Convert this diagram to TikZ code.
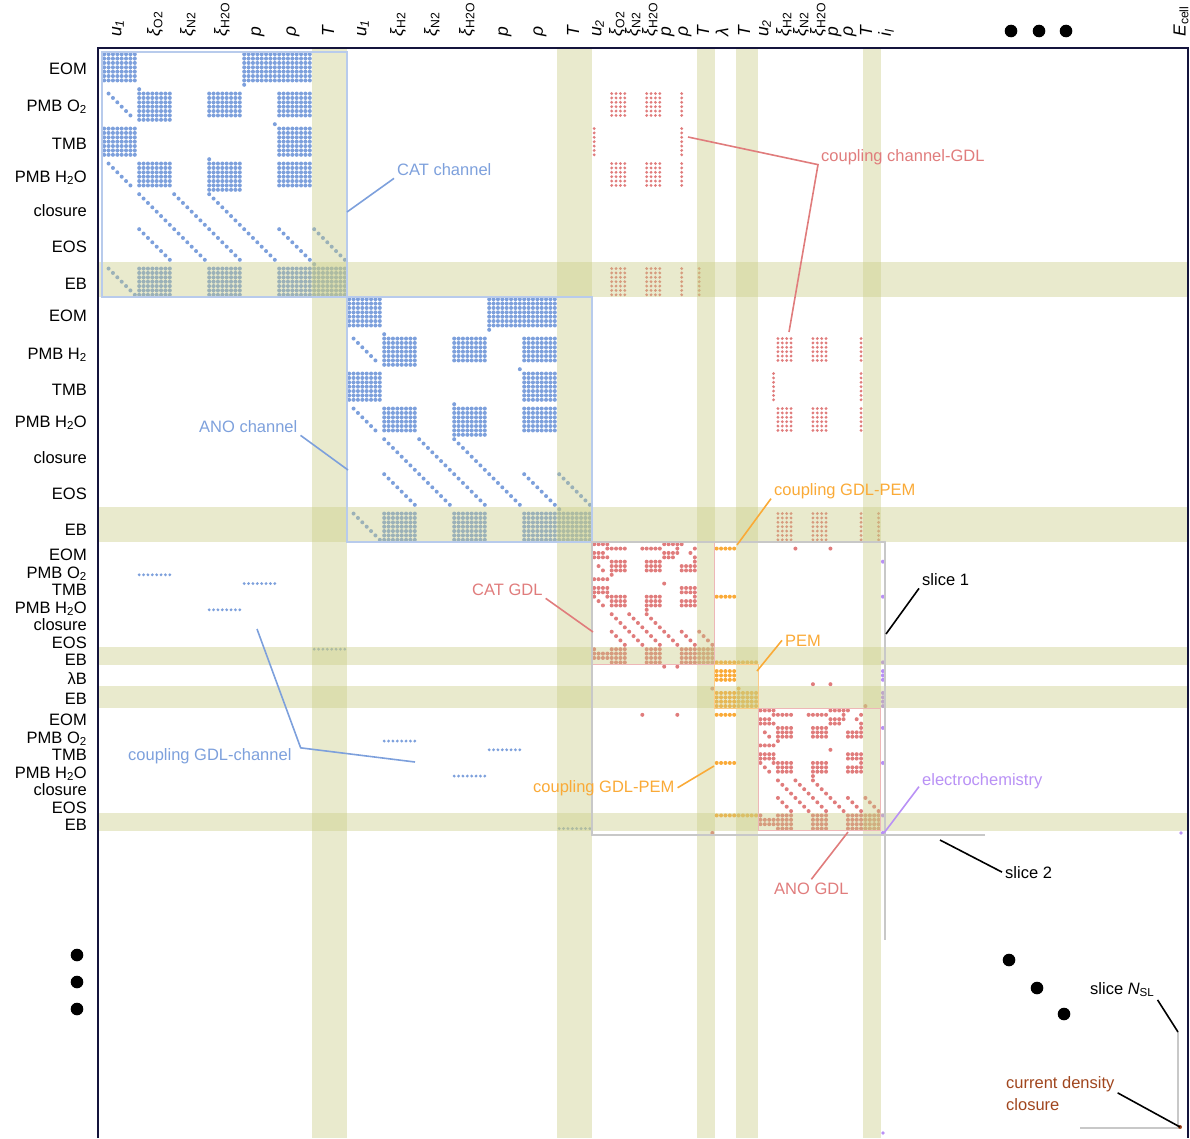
\documentclass[tikz,border=0pt]{standalone}
\usepackage{fontspec}
\setmainfont{Liberation Sans}
\usetikzlibrary{positioning}

\definecolor{cblue}{RGB}{125,160,220}
\definecolor{cred}{RGB}{224,124,124}
\definecolor{corange}{RGB}{250,170,55}
\definecolor{cpurple}{RGB}{185,145,245}
\definecolor{cbrown}{RGB}{160,70,30}
\definecolor{cstripe}{RGB}{200,203,130}
\definecolor{cframe}{RGB}{20,20,60}
\definecolor{cgray}{RGB}{200,200,200}

% dot helpers (cell units)
\newcommand\dotr{2pt}
\newcommand\dotone[2]{(#1+.5,#2+.5) circle[radius=\dotr]}
\newcommand\dotblk[4]{\foreach \ci in {#1,...,#2}{\foreach \ri in {#3,...,#4}{(\ci+.5,\ri+.5) circle[radius=\dotr]}}}
\newcommand\dotdiag[3]{\foreach \k in {1,...,#3}{(#1+\k-.5,#2+\k-.5) circle[radius=\dotr]}}

% channel block, 8 points per variable
\newcommand\chanpat{%
 \dotblk{0}{7}{0}{6} \dotblk{32}{47}{0}{6} \dotone{32}{7}
 \dotdiag{1}{9}{6} \dotone{8}{8} \dotblk{8}{15}{9}{15} \dotblk{24}{31}{9}{14} \dotblk{40}{47}{9}{14}
 \dotblk{0}{7}{17}{23} \dotone{39}{16} \dotblk{40}{47}{17}{23}
 \dotdiag{1}{25}{6} \dotblk{8}{15}{25}{30} \dotone{24}{24} \dotblk{24}{31}{25}{31} \dotblk{40}{47}{25}{30}
 \dotdiag{8}{32}{8} \dotdiag{16}{32}{8} \dotdiag{24}{32}{8}
 \dotdiag{8}{40}{8} \dotdiag{16}{40}{8} \dotdiag{24}{40}{8} \dotdiag{32}{40}{8} \dotdiag{40}{40}{8} \dotdiag{48}{40}{8} \dotone{48}{48}
 \dotdiag{1}{49}{7} \dotblk{8}{15}{49}{55} \dotblk{24}{31}{49}{55} \dotblk{40}{55}{49}{55}
}

% GDL block, 4 points per variable
\newcommand\gdlpat{%
 \dotblk{0}{3}{0}{0} \dotblk{16}{20}{0}{0}
 \dotblk{3}{7}{1}{1} \dotblk{11}{15}{1}{1} \dotone{19}{1} \dotone{23}{1}
 \dotblk{0}{2}{2}{3} \dotblk{16}{19}{2}{2} \dotone{22}{2} \dotone{3}{3} \dotblk{16}{18}{3}{3} \dotone{23}{3}
 \dotblk{4}{7}{4}{6} \dotblk{12}{15}{4}{6} \dotone{23}{4} \dotblk{20}{23}{5}{6} \dotone{1}{5} \dotone{2}{6} \dotone{4}{7}
 \dotblk{0}{3}{8}{8} \dotone{16}{9} \dotblk{0}{3}{10}{11} \dotblk{20}{23}{10}{11}
 \dotone{0}{12} \dotblk{3}{7}{12}{12} \dotblk{4}{7}{13}{14} \dotblk{12}{15}{12}{14} \dotone{23}{12} \dotblk{20}{23}{13}{14} \dotone{1}{13} \dotone{2}{14} \dotone{12}{15}
 \dotdiag{4}{16}{4} \dotdiag{8}{16}{4} \dotdiag{12}{16}{4}
 \dotdiag{4}{20}{4} \dotdiag{8}{20}{4} \dotdiag{12}{20}{4} \dotdiag{16}{20}{4} \dotdiag{20}{20}{4} \dotdiag{24}{20}{4}
 \dotone{0}{24} \dotblk{0}{3}{25}{26} \dotblk{4}{7}{24}{27} \dotblk{12}{15}{24}{27} \dotblk{20}{27}{24}{27}
}

\newcommand\vu[1]{\textit{u}\textsubscript{\textit{#1}}}
\newcommand\vxi[1]{\textit{ξ}\textsubscript{#1}}

\begin{document}
\begin{tikzpicture}[x=1pt, y=-1pt,
  collbl/.style={rotate=90, anchor=west, inner sep=0pt, font=\fontsize{17.5}{20}\selectfont},
  rowlbl/.style={anchor=base east, inner sep=0pt, font=\fontsize{16.5}{19}\selectfont},
  annot/.style={inner sep=3pt, font=\fontsize{16.5}{22}\selectfont},
  lead/.style={line width=1.6pt},
  stripe/.style={fill=cstripe, fill opacity=0.4},
  outl/.style={line width=1.3pt}]
\useasboundingbox (0,0) rectangle (1190,1138);

% Matrix on the cell grid
\begin{scope}[shift={(102,52)}, x=4.375pt, y=-4.375pt]
  % diagonal blocks
  \fill[cblue] \chanpat;
  \fill[cblue, shift={(56,56)}] \chanpat;
  \fill[cred, shift={(112,112)}] \gdlpat;
  \fill[cred, shift={(150,150)}] \gdlpat;
  % PEM
  \fill[corange] \dotblk{140}{144}{113}{113} \dotblk{140}{144}{124}{124} \dotblk{140}{149}{139}{139}
    \dotblk{140}{144}{141}{143} \dotone{145}{145} \dotblk{140}{149}{146}{149}
    \dotblk{140}{144}{151}{151} \dotblk{140}{144}{162}{162} \dotblk{140}{149}{174}{174};
  \fill[cred] \dotone{158}{113} \dotone{166}{113} \dotone{123}{151} \dotone{131}{151}
    \dotone{128}{140} \dotone{131}{140} \dotone{162}{144} \dotone{166}{144}
    \dotone{139}{145} \dotone{139}{178} \dotone{174}{149};
  % electrochemistry
  \fill[cpurple] \dotone{178}{116} \dotone{178}{124} \dotone{178}{139} \dotblk{178}{178}{141}{143}
    \dotblk{178}{178}{146}{149} \dotone{178}{154} \dotone{178}{162} \dotone{178}{174} \dotone{178}{178};
  % couplings
  \renewcommand\dotr{1.6pt}
  \fill[cred] \dotblk{116}{119}{9}{14} \dotblk{124}{127}{9}{14} \dotblk{132}{132}{9}{14}
    \dotblk{112}{112}{17}{23} \dotblk{132}{132}{17}{23}
    \dotblk{116}{119}{25}{30} \dotblk{124}{127}{25}{30} \dotblk{132}{132}{25}{30}
    \dotblk{116}{119}{49}{55} \dotblk{124}{127}{49}{55} \dotblk{132}{132}{49}{55} \dotblk{136}{136}{49}{55};
  \fill[cred] \dotblk{154}{157}{65}{70} \dotblk{162}{165}{65}{70} \dotblk{173}{173}{65}{70}
    \dotblk{153}{153}{73}{79} \dotblk{173}{173}{73}{79}
    \dotblk{154}{157}{81}{86} \dotblk{162}{165}{81}{86} \dotblk{173}{173}{81}{86}
    \dotblk{154}{157}{105}{111} \dotblk{162}{165}{105}{111} \dotblk{173}{173}{105}{111} \dotblk{177}{177}{105}{111};
  \fill[cblue] \dotblk{8}{15}{119}{119} \dotblk{32}{39}{121}{121} \dotblk{24}{31}{127}{127} \dotblk{48}{55}{136}{136}
    \dotblk{64}{71}{157}{157} \dotblk{88}{95}{159}{159} \dotblk{80}{87}{165}{165} \dotblk{104}{111}{177}{177};
  % EB / T stripes
  \foreach \a/\b in {48/56, 104/112, 136/140, 145/150, 174/178} {
    \fill[stripe] (\a,-0.9) rectangle (\b,248.2);
    \fill[stripe] (-0.9,\a) rectangle (248.2,\b);
  }
  % block outlines
  \draw[outl, cblue!55] (0,0) rectangle (56,56);
  \draw[outl, cblue!55] (56,56) rectangle (112,112);
  \draw[outl, cred!55] (112,112) rectangle (140,140);
  \draw[outl, corange!60] (140,140) rectangle (150,150);
  \draw[outl, cred!55] (150,150) rectangle (178,178);
  \draw[outl, cgray] (112,112) rectangle (179,179);
\end{scope}

% further slices
\draw[outl, cgray] (985,835) -- (885,835) -- (885,940);
\draw[outl, cgray] (1080,1128) -- (1178,1128) -- (1178,1032);
\fill[cpurple] (1181,833) circle[radius=1.9pt] (883,1133) circle[radius=1.9pt];
\fill[cbrown] (1180,1127) circle[radius=2pt];

% frame
\draw[cframe, line width=2.5pt] (98,1138) -- (98,48) -- (1188,48) -- (1188,1138);

% column labels
\foreach \x/\lab [count=\i] in {118/\vu{1}, 155/\vxi{O2}, 188/\vxi{N2}, 222/\vxi{H2O}, 258/\textit{p}, 293/\textit{ρ}, 328/\textit{T},
    363/\vu{1}, 398/\vxi{H2}, 432/\vxi{N2}, 467/\vxi{H2O}, 505/\textit{p}, 540/\textit{ρ}, 573/\textit{T},
    598/\vu{2}, 617/\vxi{O2}, 633/\vxi{N2}, 650/\vxi{H2O}, 668/\textit{p}, 685/\textit{ρ}, 703/\textit{T},
    722/\textit{λ}, 744/\textit{T},
    765/\vu{2}, 784/\vxi{H2}, 801/\vxi{N2}, 818/\vxi{H2O}, 835/\textit{p}, 850/\textit{ρ}, 866/\textit{T}, 886/\textit{i}\textsubscript{\textit{l}},
    1181/\textit{E}\textsubscript{cell}}
  \node[collbl] (col\i) at (\x,37) {\lab};

% row labels
\foreach \y/\lab [count=\i] in {74/EOM, 111/PMB O\textsubscript{2}, 149/TMB, 182/PMB H\textsubscript{2}O, 216/closure, 252/EOS, 289/EB,
    321/EOM, 359/PMB H\textsubscript{2}, 395/TMB, 427/PMB H\textsubscript{2}O, 463/closure, 499/EOS, 535/EB,
    560/EOM, 578/PMB O\textsubscript{2}, 595/TMB, 613/PMB H\textsubscript{2}O, 630/closure, 648/EOS, 665/EB,
    684/λB, 704/EB,
    725/EOM, 743/PMB O\textsubscript{2}, 760/TMB, 778/PMB H\textsubscript{2}O, 795/closure, 813/EOS, 830/EB}
  \node[rowlbl] (row\i) at (87,\y) {\lab};

% ellipses
\foreach \x/\y in {1011/31, 1039/31, 1066/31, 77/955, 77/982, 77/1009, 1009/960, 1037/988, 1064/1014}
  \fill (\x,\y) circle[radius=6.3pt];

% annotations
\node[annot, text=cblue, anchor=base west] (catch) at (394,175) {CAT channel};
\node[annot, text=cred, anchor=base west] (cpchgdl) at (818,161) {coupling channel-GDL};
\node[annot, text=cblue, anchor=base west] (anoch) at (196,432) {ANO channel};
\node[annot, text=corange, anchor=base west] (cpgdlpem1) at (771,495) {coupling GDL-PEM};
\node[annot, text=cred, anchor=base west] (catgdl) at (469,595) {CAT GDL};
\node[annot, anchor=base west] (slice1) at (919,585) {slice 1};
\node[annot, text=corange, anchor=base west] (pem) at (782,646) {PEM};
\node[annot, text=cblue, anchor=base west] (cpgdlch) at (125,760) {coupling GDL-channel};
\node[annot, text=corange, anchor=base west] (cpgdlpem2) at (530,792) {coupling GDL-PEM};
\node[annot, text=cpurple, anchor=base west] (echem) at (919,785) {electrochemistry};
\node[annot, anchor=base west] (slice2) at (1002,878) {slice 2};
\node[annot, text=cred, anchor=base west] (anogdl) at (771,894) {ANO GDL};
\node[annot, anchor=base west] (sliceN) at (1087,994) {slice \textit{N}\textsubscript{SL}};
\node[annot, text=cbrown, anchor=base west, align=left] (cdclos) at (1003,1110) {current density\\closure};

\coordinate (catpt) at (347,212);
\coordinate (cppt1) at (688,137);
\coordinate (cppt2) at (789,332);
\coordinate (anopt) at (348,470);
\coordinate (gp1pt) at (737,545);
\coordinate (catgdlpt) at (593,632);
\coordinate (s1pt) at (886,634);
\coordinate (pempt) at (757,671);
\coordinate (gcpt1) at (257,629);
\coordinate (gcpt2) at (415,762);
\coordinate (gp2pt) at (714,766);
\coordinate (ecpt) at (884,833);
\coordinate (s2pt) at (940,840);
\coordinate (anogdlpt) at (848,832);
\coordinate (sNpt) at (1178,1032);
\coordinate (cdpt) at (1180,1127);

\draw[lead, cblue] (catch.south west) -- (catpt);
\draw[lead, cred] (cppt1) -- ([yshift=3pt]cpchgdl.south west) -- (cppt2);
\draw[lead, cblue] (anoch.south east) -- (anopt);
\draw[lead, corange] ([yshift=3pt]cpgdlpem1.south west) -- (gp1pt);
\draw[lead, cred] (catgdl.south east) -- (catgdlpt);
\draw[lead] (slice1.south west) -- (s1pt);
\draw[lead, corange] (pem.west) -- (pempt);
\draw[lead, cblue] (gcpt1) -- ([xshift=6pt,yshift=-3pt]cpgdlch.north east) -- (gcpt2);
\draw[lead, corange] (cpgdlpem2.east) -- (gp2pt);
\draw[lead, cpurple] ([yshift=5pt]echem.south west) -- (ecpt);
\draw[lead] (slice2.west) -- (s2pt);
\draw[lead, cred] (anogdl.north) -- (anogdlpt);
\draw[lead] (sliceN.south east) -- (sNpt);
\draw[lead] ([yshift=-20pt]cdclos.north east) -- (cdpt);
\end{tikzpicture}
\end{document}
